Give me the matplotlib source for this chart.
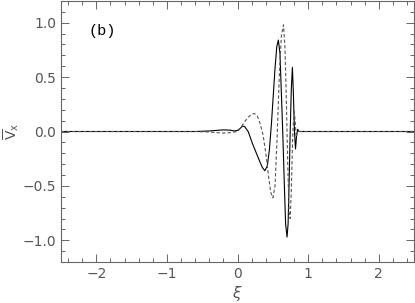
import matplotlib
matplotlib.use('Agg')
import matplotlib.pyplot as plt
from matplotlib.ticker import MultipleLocator

# solid curve, points
x_solid = [-2.5, -1.0, -0.6, -0.4, -0.3, -0.2, -0.1, -0.05, 0.0, 0.04, 0.07, 0.1,
           0.15, 0.21, 0.26, 0.31, 0.35, 0.385, 0.42, 0.45, 0.48, 0.50, 0.53,
           0.555, 0.577, 0.60, 0.62, 0.64, 0.66, 0.68, 0.70, 0.715, 0.73, 0.745,
           0.76, 0.776, 0.79, 0.805, 0.82, 0.835, 0.85, 0.87, 0.9, 2.5]
y_solid = [0.0, 0.0, 0.0, 0.005, 0.01, 0.015, 0.012, 0.005, 0.01, 0.03, 0.05, 0.045,
           0.0, -0.11, -0.19, -0.27, -0.33, -0.36, -0.32, -0.17, 0.08, 0.28, 0.58,
           0.78, 0.84, 0.72, 0.35, -0.02, -0.45, -0.85, -0.97, -0.85, -0.45, 0.0,
           0.38, 0.59, 0.35, 0.0, -0.16, -0.04, 0.02, 0.0, 0.0, 0.0]

# dashed curve
x_dash = [-2.5, -1.0, -0.6, -0.4, -0.3, -0.2, -0.1, -0.05, 0.0, 0.05, 0.1, 0.15,
          0.2, 0.24, 0.28, 0.32, 0.36, 0.40, 0.44, 0.47, 0.50, 0.53, 0.56,
          0.59, 0.62, 0.65, 0.67, 0.69, 0.71, 0.73, 0.745, 0.76, 0.78, 0.80,
          0.815, 0.83, 0.85, 0.9, 2.5]
y_dash = [0.0, 0.0, 0.0, -0.005, -0.01, -0.015, -0.01, -0.005, 0.0, 0.04, 0.09, 0.13,
          0.16, 0.165, 0.14, 0.07, -0.03, -0.2, -0.42, -0.56, -0.61, -0.5, -0.05,
          0.5, 0.88, 0.98, 0.78, 0.3, -0.3, -0.75, -0.80, -0.55, -0.05, 0.2,
          0.1, -0.05, 0.0, 0.0, 0.0]

plt.rcParams['font.family'] = 'DejaVu Sans'
fig = plt.figure(figsize=(4.15, 3.03), dpi=100)
ax = fig.add_axes([0.147, 0.135, 0.851, 0.862])

ax.plot(x_solid, y_solid, color='black', lw=0.8)
ax.plot(x_dash, y_dash, color='#555555', lw=0.8, ls=(0, (3, 2)))

ax.set_xlim(-2.5, 2.5)
ax.set_ylim(-1.2, 1.2)
ax.xaxis.set_major_locator(MultipleLocator(1))
ax.xaxis.set_minor_locator(MultipleLocator(0.2))
ax.yaxis.set_major_locator(MultipleLocator(0.5))
ax.yaxis.set_minor_locator(MultipleLocator(0.1))
ax.yaxis.set_major_formatter(plt.FuncFormatter(lambda v, p: f'{v:.1f}'.replace('-', '\u2212')))

gray = '#666666'
for s in ax.spines.values():
    s.set_color(gray)
    s.set_linewidth(0.8)
ax.tick_params(which='both', direction='in', top=True, right=True, color=gray,
               labelcolor='#555555', labelsize=10, width=0.7)
ax.tick_params(which='major', length=6)
ax.tick_params(which='minor', length=3)

ax.set_xlabel(r'$\xi$', color='#555555', fontsize=11, labelpad=2)
ax.set_ylabel(r'$\overline{\rm V}_{\rm x}$', color='#555555', fontsize=10, labelpad=1)
ax.text(0.077, 0.885, '(b)', transform=ax.transAxes, fontsize=11, va='center',
        family='Liberation Mono', color='black')

fig.savefig('out.png', dpi=100)
